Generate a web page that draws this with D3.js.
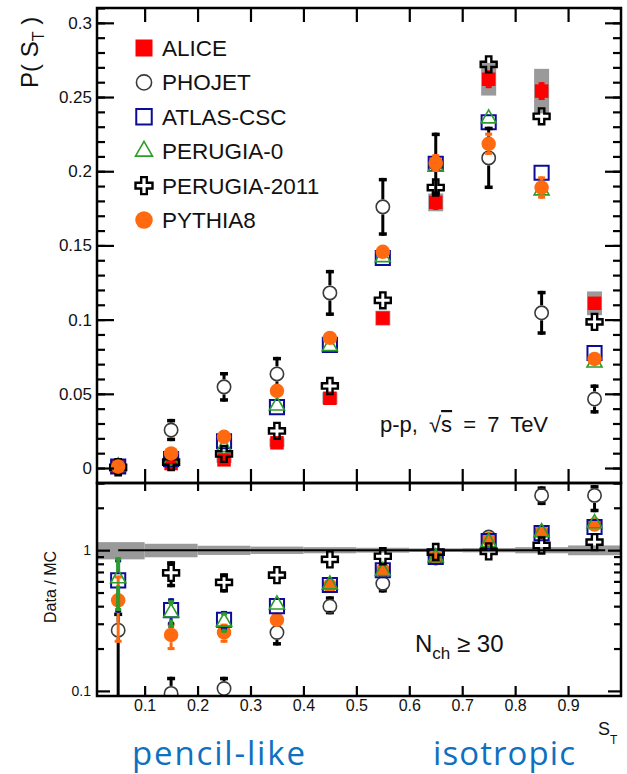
<!DOCTYPE html>
<html>
<head>
<meta charset="utf-8">
<script src="https://cdn.jsdelivr.net/npm/d3@7"></script>
<style>
  body { margin: 0; background: #fff; }
  svg { display: block; }
</style>
</head>
<body>
<svg id="chart" width="627" height="774"></svg>
<script>
// ---- data: sphericity S_T distributions, N_ch >= 30, pp at 7 TeV ----
const stBins   = [0.05, 0.15, 0.25, 0.35, 0.45, 0.55, 0.65, 0.75, 0.85, 0.95];
const binEdges = [0, 0.1, 0.2, 0.3, 0.4, 0.5, 0.6, 0.7, 0.8, 0.9, 1.0];

// P(S_T)
const alice       = [0.001, 0.003, 0.0055, 0.017, 0.047, 0.101, 0.179, 0.262, 0.254, 0.111];
const aliceStat   = [0.0005, 0.001, 0.001, 0.002, 0.003, 0.004, 0.005, 0.006, 0.006, 0.004];
const aliceSyst   = [0.001, 0.002, 0.002, 0.003, 0.004, 0.005, 0.006, 0.011, 0.015, 0.008];
const phojet      = [0.001, 0.0256, 0.0547, 0.0634, 0.118, 0.176, 0.205, 0.209, 0.1046, 0.0465];
const phojetErr   = [0.001, 0.0075, 0.010, 0.0115, 0.0155, 0.0195, 0.021, 0.021, 0.0148, 0.0098];
const atlasCsc    = [0.001, 0.006, 0.018, 0.041, 0.083, 0.1415, 0.205, 0.233, 0.199, 0.0775];
const perugia0    = [0.001, 0.005, 0.014, 0.042, 0.082, 0.142, 0.203, 0.2355, 0.187, 0.071];
const perugia2011 = [0.0005, 0.004, 0.0095, 0.025, 0.0553, 0.113, 0.189, 0.272, 0.237, 0.0985];
const pythia8     = [0.001, 0.0098, 0.021, 0.052, 0.0877, 0.1457, 0.2055, 0.2185, 0.189, 0.0735];
const pythia8Err  = [0.0005, 0.001, 0.0015, 0.002, 0.003, 0.004, 0.006, 0.0075, 0.0075, 0.004];

// Data / MC
const ratioPhojet          = [0.27, 0.096, 0.104, 0.26, 0.40, 0.58, 0.88, 1.24, 2.45, 2.45];
const ratioPhojetErrUp     = [0.09, 0.03, 0.022, 0.05, 0.07, 0.09, 0.09, 0.14, 0.39, 0.45];
const ratioPhojetErrDown   = [0.27, 0.03, 0.022, 0.05, 0.05, 0.08, 0.08, 0.12, 0.36, 0.59];
const ratioAtlasCsc        = [0.61, 0.375, 0.32, 0.40, 0.565, 0.72, 0.895, 1.16, 1.32, 1.46];
const ratioAtlasCscErr     = [0.25, 0.08, 0.05, 0.03, 0.02, 0.02, 0.02, 0.03, 0.04, 0.05];
const ratioPerugia0        = [0.63, 0.36, 0.31, 0.41, 0.57, 0.71, 0.89, 1.14, 1.34, 1.55];
const ratioPerugia0Err     = [0.26, 0.08, 0.05, 0.03, 0.02, 0.02, 0.02, 0.03, 0.04, 0.05];
const ratioPerugia2011     = [null, 0.69, 0.59, 0.665, 0.86, 0.905, 0.97, 0.98, 1.08, 1.14];
const ratioPerugia2011Err  = [null, 0.145, 0.09, 0.05, 0.04, 0.03, 0.03, 0.03, 0.04, 0.05];
const ratioPythia8         = [0.44, 0.25, 0.26, 0.32, 0.56, 0.72, 0.90, 1.20, 1.35, 1.52];
const ratioPythia8Err      = [0.22, 0.055, 0.04, 0.03, 0.02, 0.02, 0.02, 0.03, 0.04, 0.05];
const aliceRelUnc          = [0.14, 0.11, 0.075, 0.06, 0.05, 0.04, 0.03, 0.035, 0.05, 0.08];
const unityLine            = [0.05, 0.97];

// axes
const pTicks       = [0, 0.05, 0.1, 0.15, 0.2, 0.25, 0.3];
const pTickLabels  = ["0", "0.05", "0.1", "0.15", "0.2", "0.25", "0.3"];
const stTicks      = [0.1, 0.2, 0.3, 0.4, 0.5, 0.6, 0.7, 0.8, 0.9];
const stTickLabels = ["0.1", "0.2", "0.3", "0.4", "0.5", "0.6", "0.7", "0.8", "0.9"];
const ratioTicks   = [0.1, 1];
const ratioTickLabels = ["0.1", "1"];
const ratioMinor   = [0.2, 0.3, 0.4, 0.5, 0.6, 0.7, 0.8, 0.9, 2, 3];
const legendLabels = ["ALICE", "PHOJET", "ATLAS-CSC", "PERUGIA-0", "PERUGIA-2011", "PYTHIA8"];

// ---- layout ----
const FONT = "'Liberation Sans', Arial, Helvetica, sans-serif";
const L = 97, R = 621, T1 = 8, B1 = 483, B2 = 696;
const svg = d3.select('#chart');

const x  = d3.scaleLinear().domain([0.01, 1]).range([L, R]);
const yP = d3.scaleLinear().domain([-0.0101, 0.31]).range([B1, T1]);
const yR = d3.scaleLog().domain([0.092, 3]).range([B2, B1]);

const defs = svg.append('defs');
defs.append('clipPath').attr('id', 'clipTop').append('rect')
  .attr('x', L).attr('y', T1).attr('width', R - L).attr('height', B1 - T1);
defs.append('clipPath').attr('id', 'clipBot').append('rect')
  .attr('x', L).attr('y', B1).attr('width', R - L).attr('height', B2 - B1);

const gTop = svg.append('g').attr('clip-path', 'url(#clipTop)');
const gBot = svg.append('g').attr('clip-path', 'url(#clipBot)');

// marker styles
const mk = {
  alice: { type: d3.symbolSquare,   size: 182, fill: '#ff0000', stroke: 'none',    sw: 0,   half: 7 },
  phojet:{ type: d3.symbolCircle,   size: 140, fill: 'none',    stroke: '#3a3a3a', sw: 1.6, half: 7.5 },
  atlas: { type: d3.symbolSquare,   size: 200, fill: 'none',    stroke: '#0c0c99', sw: 2,   half: 8 },
  per0:  { type: d3.symbolTriangle, size: 98,  fill: 'none',    stroke: '#2a9d2a', sw: 1.6, half: 7 },
  per11: { type: d3.symbolCross,    size: 142, fill: 'none',    stroke: '#000',    sw: 2.4, half: 8 },
  py8:   { type: d3.symbolCircle,   size: 165, fill: '#ff6a10', stroke: 'none',    sw: 0,   half: 7.3 }
};

function markers(g, yS, vals, st) {
  const idx = vals.map((v, i) => i).filter(i => vals[i] != null);
  g.append('g').selectAll('path').data(idx).join('path')
    .attr('d', d3.symbol().type(st.type).size(st.size))
    .attr('transform', i => `translate(${x(stBins[i])},${yS(vals[i])})`)
    .attr('fill', st.fill)
    .attr('stroke', st.stroke)
    .attr('stroke-width', st.sw);
}

function errBars(g, yS, vals, dn, up, st, color, sw, capW, capH, isLog) {
  const gg = g.append('g').attr('stroke', color);
  vals.forEach((v, i) => {
    if (v == null || dn[i] == null) return;
    const cx = x(stBins[i]), cy = yS(v);
    const loV = v - dn[i], hiV = v + up[i];
    const yl = (isLog && loV <= 0) ? B2 + 40 : yS(loV);
    const yh = yS(hiV);
    if (yh < cy - st.half) {
      gg.append('line').attr('x1', cx).attr('x2', cx).attr('y1', cy - st.half).attr('y2', yh)
        .attr('stroke-width', sw);
      gg.append('line').attr('x1', cx - capW / 2).attr('x2', cx + capW / 2)
        .attr('y1', yh + capH / 2).attr('y2', yh + capH / 2).attr('stroke-width', capH);
    }
    if (yl > cy + st.half) {
      gg.append('line').attr('x1', cx).attr('x2', cx).attr('y1', cy + st.half).attr('y2', yl)
        .attr('stroke-width', sw);
      gg.append('line').attr('x1', cx - capW / 2).attr('x2', cx + capW / 2)
        .attr('y1', yl - capH / 2).attr('y2', yl - capH / 2).attr('stroke-width', capH);
    }
  });
}

// ---- upper panel: P(S_T) ----
gTop.append('g').selectAll('rect').data(stBins.map((s, i) => i)).join('rect')
  .attr('x', i => x(stBins[i]) - 7.5)
  .attr('width', 15)
  .attr('y', i => yP(alice[i] + aliceSyst[i]))
  .attr('height', i => yP(alice[i] - aliceSyst[i]) - yP(alice[i] + aliceSyst[i]))
  .attr('fill', '#9a9a9a');

errBars(gTop, yP, alice, aliceStat, aliceStat, { half: 6 }, '#ff0000', 3, 6, 3, false);
markers(gTop, yP, alice, mk.alice);
markers(gTop, yP, atlasCsc, mk.atlas);
markers(gTop, yP, perugia0, mk.per0);
errBars(gTop, yP, phojet, phojetErr, phojetErr, mk.phojet, '#000', 3, 8, 3.5, false);
markers(gTop, yP, phojet, mk.phojet);
markers(gTop, yP, perugia2011, mk.per11);
errBars(gTop, yP, pythia8, pythia8Err, pythia8Err, mk.py8, '#ff6a10', 3, 7, 3, false);
markers(gTop, yP, pythia8, mk.py8);

// ---- lower panel: Data / MC ----
gBot.append('g').selectAll('rect').data(aliceRelUnc.map((u, i) => i)).join('rect')
  .attr('x', i => x(binEdges[i]))
  .attr('width', i => x(binEdges[i + 1]) - x(binEdges[i]))
  .attr('y', i => yR(1 + aliceRelUnc[i]))
  .attr('height', i => yR(1 - aliceRelUnc[i]) - yR(1 + aliceRelUnc[i]))
  .attr('fill', '#9a9a9a');

gBot.append('line')
  .attr('x1', x(unityLine[0])).attr('x2', x(unityLine[1]))
  .attr('y1', yR(1)).attr('y2', yR(1))
  .attr('stroke', '#000').attr('stroke-width', 2);

errBars(gBot, yR, ratioPhojet, ratioPhojetErrDown, ratioPhojetErrUp, mk.phojet, '#000', 3, 8, 3.5, true);
markers(gBot, yR, ratioPhojet, mk.phojet);
errBars(gBot, yR, ratioPythia8, ratioPythia8Err, ratioPythia8Err, mk.py8, '#ff6a10', 3, 7, 3, true);
markers(gBot, yR, ratioPythia8, mk.py8);
errBars(gBot, yR, ratioAtlasCsc, ratioAtlasCscErr, ratioAtlasCscErr, mk.atlas, '#0c0c99', 3, 6, 3, true);
markers(gBot, yR, ratioAtlasCsc, mk.atlas);
errBars(gBot, yR, ratioPerugia0, ratioPerugia0Err, ratioPerugia0Err, mk.per0, '#2a9d2a', 4, 6, 3, true);
markers(gBot, yR, ratioPerugia0, mk.per0);
errBars(gBot, yR, ratioPerugia2011, ratioPerugia2011Err, ratioPerugia2011Err, mk.per11, '#000', 3, 8, 3.5, true);
markers(gBot, yR, ratioPerugia2011, mk.per11);

// ---- axes ----
function styleAxis(g, fontSize) {
  g.select('.domain').remove();
  g.selectAll('.tick line').attr('stroke', '#000').attr('stroke-width', 2.2);
  g.selectAll('.tick text').attr('fill', '#111').style('font-family', FONT).style('font-size', fontSize + 'px');
  return g;
}
const pMinor = d3.range(-1, 32).map(i => i / 100);

// upper panel
styleAxis(svg.append('g').attr('transform', `translate(${L},0)`)
  .call(d3.axisLeft(yP).tickValues(pTicks).tickSize(-17).tickPadding(5)
    .tickFormat((d, i) => pTickLabels[i])), 17);
styleAxis(svg.append('g').attr('transform', `translate(${L},0)`)
  .call(d3.axisLeft(yP).tickValues(pMinor).tickSize(-8).tickFormat('')), 1);
styleAxis(svg.append('g').attr('transform', `translate(${R},0)`)
  .call(d3.axisRight(yP).tickValues(pTicks).tickSize(-16).tickFormat('')), 1);
styleAxis(svg.append('g').attr('transform', `translate(${R},0)`)
  .call(d3.axisRight(yP).tickValues(pMinor).tickSize(-8).tickFormat('')), 1);
styleAxis(svg.append('g').attr('transform', `translate(0,${T1})`)
  .call(d3.axisTop(x).tickValues(stTicks).tickSize(-14).tickFormat('')), 1);
styleAxis(svg.append('g').attr('transform', `translate(0,${B1})`)
  .call(d3.axisBottom(x).tickValues(stTicks).tickSize(-14).tickFormat('')), 1);

// lower panel
styleAxis(svg.append('g').attr('transform', `translate(0,${B1})`)
  .call(d3.axisTop(x).tickValues(stTicks).tickSize(-8).tickFormat('')), 1);
styleAxis(svg.append('g').attr('transform', `translate(0,${B2})`)
  .call(d3.axisBottom(x).tickValues(stTicks).tickSize(-10).tickPadding(4)
    .tickFormat((d, i) => stTickLabels[i])), 16);
styleAxis(svg.append('g').attr('transform', `translate(${L},0)`)
  .call(d3.axisLeft(yR).tickValues(ratioTicks).tickSize(-13).tickPadding(6)
    .tickFormat((d, i) => ratioTickLabels[i])), 14);
styleAxis(svg.append('g').attr('transform', `translate(${L},0)`)
  .call(d3.axisLeft(yR).tickValues(ratioMinor).tickSize(-7).tickFormat('')), 1);
styleAxis(svg.append('g').attr('transform', `translate(${R},0)`)
  .call(d3.axisRight(yR).tickValues(ratioTicks).tickSize(-13).tickFormat('')), 1);
styleAxis(svg.append('g').attr('transform', `translate(${R},0)`)
  .call(d3.axisRight(yR).tickValues(ratioMinor).tickSize(-7).tickFormat('')), 1);

// frames
svg.append('rect').attr('x', L).attr('y', T1).attr('width', R - L).attr('height', B1 - T1)
  .attr('fill', 'none').attr('stroke', '#000').attr('stroke-width', 2.5);
svg.append('rect').attr('x', L).attr('y', B1).attr('width', R - L).attr('height', B2 - B1)
  .attr('fill', 'none').attr('stroke', '#000').attr('stroke-width', 2.5);

// ---- titles ----
const yTitle = svg.append('text')
  .attr('transform', 'translate(38,88) rotate(-90)')
  .style('font-family', FONT).style('font-size', '24px').attr('fill', '#111');
yTitle.append('tspan').text('P( S');
yTitle.append('tspan').attr('dy', 6).style('font-size', '16px').text('T');
yTitle.append('tspan').attr('dy', -6).text(' )');

svg.append('text')
  .attr('transform', 'translate(56,587) rotate(-90)')
  .attr('text-anchor', 'middle')
  .style('font-family', FONT).style('font-size', '16px').attr('fill', '#111')
  .text('Data / MC');

const xTitle = svg.append('text').attr('x', 598).attr('y', 735)
  .style('font-family', FONT).style('font-size', '18px').attr('fill', '#111');
xTitle.append('tspan').text('S');
xTitle.append('tspan').attr('dy', 9).style('font-size', '12px').text('T');

// energy label
const ppLabel = svg.append('text').attr('x', 380).attr('y', 432)
  .style('word-spacing', '5px')
  .style('font-family', FONT).style('font-size', '22px').attr('fill', '#111');
ppLabel.append('tspan').text('p-p, \u221A');
ppLabel.append('tspan').style('text-decoration', 'overline').text('s');
ppLabel.append('tspan').text(' = 7 TeV');

// multiplicity cut
const nch = svg.append('text').attr('x', 415).attr('y', 652)
  .style('font-family', FONT).style('font-size', '24px').attr('fill', '#111');
nch.append('tspan').text('N');
nch.append('tspan').attr('dy', 7).style('font-size', '17px').text('ch');
nch.append('tspan').attr('dy', -7).text(' \u2265 30');

// ---- legend ----
const legendStyles = [
  { type: d3.symbolSquare,   size: 289, fill: '#ff0000', stroke: 'none',    sw: 0 },
  { type: d3.symbolCircle,   size: 180, fill: 'none',    stroke: '#3a3a3a', sw: 1.6 },
  { type: d3.symbolSquare,   size: 240, fill: 'none',    stroke: '#0c0c99', sw: 2 },
  { type: d3.symbolTriangle, size: 125, fill: 'none',    stroke: '#2a9d2a', sw: 1.6 },
  { type: d3.symbolCross,    size: 160, fill: 'none',    stroke: '#000',    sw: 2.4 },
  { type: d3.symbolCircle,   size: 240, fill: '#ff6a10', stroke: 'none',    sw: 0 }
];
const legendY = d3.scalePoint().domain(legendLabels).range([48, 220]);
const leg = svg.append('g').selectAll('g').data(legendLabels).join('g')
  .attr('transform', d => `translate(144,${legendY(d)})`);
leg.append('path')
  .attr('d', (d, i) => d3.symbol().type(legendStyles[i].type).size(legendStyles[i].size)())
  .attr('fill', (d, i) => legendStyles[i].fill)
  .attr('stroke', (d, i) => legendStyles[i].stroke)
  .attr('stroke-width', (d, i) => legendStyles[i].sw);
leg.append('text').attr('x', 18).attr('y', 8)
  .style('font-family', FONT).style('font-size', '22.5px').attr('fill', '#111')
  .text(d => d);

// ---- event-shape captions ----
const capFont = "'Open Sans', 'Noto Sans', sans-serif";
svg.append('text').attr('x', 132).attr('y', 765)
  .attr('textLength', 173).attr('lengthAdjust', 'spacing')
  .style('font-family', capFont).style('font-size', '33px').attr('fill', '#1070c0')
  .text('pencil-like');
svg.append('text').attr('x', 433).attr('y', 765)
  .attr('textLength', 142).attr('lengthAdjust', 'spacing')
  .style('font-family', capFont).style('font-size', '33px').attr('fill', '#1070c0')
  .text('isotropic');
</script>
</body>
</html>
